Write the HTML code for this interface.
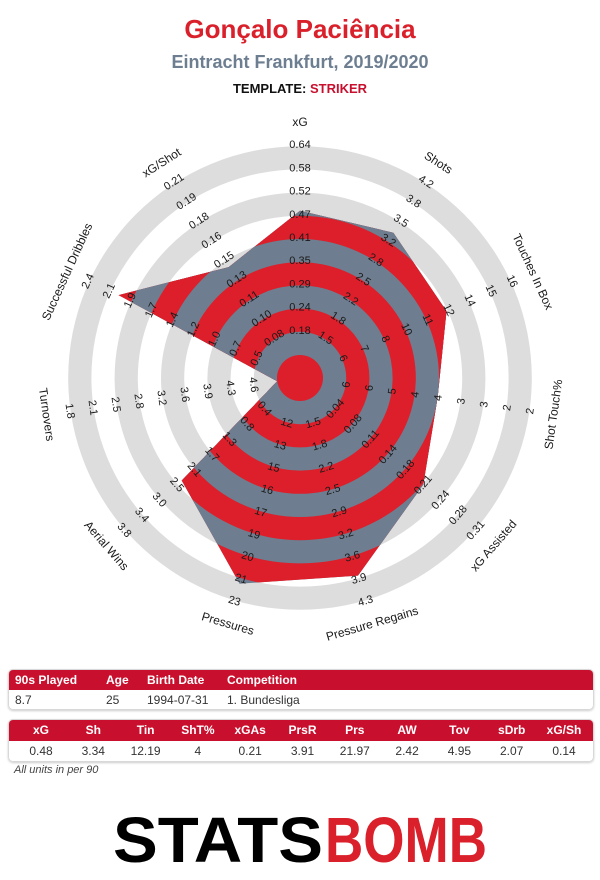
<!DOCTYPE html>
<html><head><meta charset="utf-8">
<style>
html,body{margin:0;padding:0;background:#fff;}
body{width:600px;height:880px;position:relative;overflow:hidden;font-family:"Liberation Sans","DejaVu Sans",sans-serif;}
.t{position:absolute;left:0;width:600px;text-align:center;font-weight:bold;}
table{border-collapse:collapse;}
.box{position:absolute;left:8px;width:584px;border:1px solid #d8d8d8;border-radius:5px;overflow:hidden;box-shadow:0 1px 2px #ccc;}
.hd{background:#c8102e;color:#fff;font-weight:bold;font-size:12px;height:20px;position:relative;}
.bd{font-size:12px;color:#333;height:19px;position:relative;}
.hd span,.bd span{position:absolute;top:3px;}
.c span{width:52px;text-align:center;}
</style></head><body>
<div class="t" style="top:14px;font-size:26px;color:#d9202b;">Gonçalo Paciência</div>
<div class="t" style="top:52px;font-size:18px;color:#6e7e91;">Eintracht Frankfurt, 2019/2020</div>
<div class="t" style="top:81px;font-size:13px;color:#111;">TEMPLATE: <span style="color:#c8102e">STRIKER</span></div>

<svg id="radar" width="600" height="660" style="position:absolute;left:0;top:0" xmlns="http://www.w3.org/2000/svg"></svg>

<div class="box" style="top:669px;height:39px;">
 <div class="hd"><span style="left:6px">90s Played</span><span style="left:97px">Age</span><span style="left:138px">Birth Date</span><span style="left:218px">Competition</span></div>
 <div class="bd"><span style="left:6px">8.7</span><span style="left:97px">25</span><span style="left:138px">1994-07-31</span><span style="left:218px">1. Bundesliga</span></div>
</div>
<div class="box" style="top:719px;height:41px;">
 <div class="hd c" style="height:21px" id="sh"></div>
 <div class="bd c" id="sb"></div>
</div>
<div style="position:absolute;left:14px;top:764px;font-size:11px;font-style:italic;color:#444;">All units in per 90</div>

<svg width="600" height="60" style="position:absolute;left:0;top:810px">
 <text x="113" y="52" textLength="210" lengthAdjust="spacingAndGlyphs" font-family="Liberation Sans,sans-serif" font-weight="bold" font-size="64" fill="#000">STATS</text>
 <text x="325" y="52" textLength="162" lengthAdjust="spacingAndGlyphs" font-family="Liberation Sans,sans-serif" font-weight="bold" font-size="64" fill="#d9202b">BOMB</text>
</svg>

<script>
const categories=["xG","Shots","Touches In Box","Shot Touch%","xG Assisted","Pressure Regains","Pressures","Aerial Wins","Turnovers","Successful Dribbles","xG/Shot"];
const values=[0.48,3.34,12.19,4,0.21,3.91,21.97,2.42,4.95,2.07,0.14];
const ticks=[
 ["0.18","0.24","0.29","0.35","0.41","0.47","0.52","0.58","0.64"],
 ["1.5","1.8","2.2","2.5","2.8","3.2","3.5","3.8","4.2"],
 ["6","7","8","10","11","12","14","15","16"],
 ["6","6","5","4","4","3","3","2","2"],
 ["0.04","0.08","0.11","0.14","0.18","0.21","0.24","0.28","0.31"],
 ["1.5","1.8","2.2","2.5","2.9","3.2","3.6","3.9","4.3"],
 ["12","13","15","16","17","19","20","21","23"],
 ["0.4","0.8","1.3","1.7","2.1","2.5","3.0","3.4","3.8"],
 ["4.6","4.3","3.9","3.6","3.2","2.8","2.5","2.1","1.8"],
 ["0.5","0.7","1.0","1.2","1.4","1.7","1.9","2.1","2.4"],
 ["0.08","0.10","0.11","0.13","0.15","0.16","0.18","0.19","0.21"]];
const tableHeads=["xG","Sh","Tin","ShT%","xGAs","PrsR","Prs","AW","Tov","sDrb","xG/Sh"];
const tableVals=["0.48","3.34","12.19","4","0.21","3.91","21.97","2.42","4.95","2.07","0.14"];

const NS="http://www.w3.org/2000/svg";
const svg=document.getElementById('radar');
const CX=300,CY=378,R0=23,STEP=23.2;
const b=k=>R0+STEP*k;
function ang(i){return i*2*Math.PI/categories.length;}
function pt(i,r){const a=ang(i);return [CX+r*Math.sin(a),CY-r*Math.cos(a)];}
function rad(i,v){const t=ticks[i];const t1=parseFloat(t[0]),t9=parseFloat(t[8]);let r=b(1)+(v-t1)/(t9-t1)*(b(9)-b(1));return Math.max(0,r);}
function mk(tag,attrs,parent){const e=document.createElementNS(NS,tag);for(const k in attrs)e.setAttribute(k,attrs[k]);(parent||svg).appendChild(e);return e;}

// outer rings
for(let k=9;k>=0;k--){
 const c=mk('circle',{cx:CX,cy:CY,r:b(k),fill:(k%2)?'#dddddd':'#ffffff'});
 
 
}
// polygon clip
const defs=mk('defs',{});
const cp=mk('clipPath',{id:'pc'},defs);
const pts=values.map((v,i)=>pt(i,rad(i,v)).join(',')).join(' ');
mk('polygon',{points:pts},cp);
const g=mk('g',{'clip-path':'url(#pc)'});


for(let k=9;k>=0;k--){
 mk('circle',{cx:CX,cy:CY,r:b(k),fill:(k%2)?'#6e7d8f':'#dc1f2a'},g);
}
function rot(i){let d=ang(i)*180/Math.PI;if(d>90&&d<270)d-=180;return d;}
// tick labels
ticks.forEach((arr,i)=>{
 arr.forEach((s,k)=>{
  const [x,y]=pt(i,b(k+1)+1);
  const t=mk('text',{x:x,y:y,'font-size':11,fill:'#1a1a1a','text-anchor':'middle','dominant-baseline':'central',transform:`rotate(${rot(i)} ${x} ${y})`});
  
  
  t.textContent=s;
 });
 const [x,y]=pt(i,256);
 const t=mk('text',{x:x,y:y,'font-size':12,fill:'#1a1a1a','text-anchor':'middle','dominant-baseline':'central',transform:`rotate(${rot(i)} ${x} ${y})`});
 
 
 t.textContent=categories[i];
});
// stats table
const sh=document.getElementById('sh'),sb=document.getElementById('sb');
tableHeads.forEach((h,i)=>{
 const s=document.createElement('span');s.style.left=(6+i*52.3)+'px';s.textContent=h;
 
 
 sh.appendChild(s);
 const v=document.createElement('span');v.style.left=(6+i*52.3)+'px';v.textContent=tableVals[i];
 
 
 sb.appendChild(v);
});
</script>
</body></html>
